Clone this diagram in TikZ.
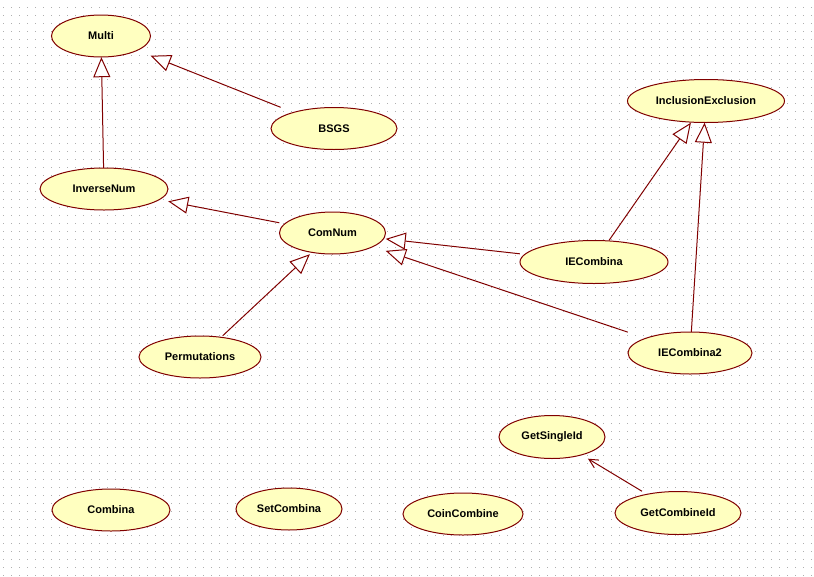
\documentclass[tikz,border=0pt]{standalone}
\usepackage{fontspec}
\setmainfont{Liberation Sans}
\usetikzlibrary{arrows.meta}
\pgfdeclarelayer{grid}
\pgfdeclarelayer{background}
\pgfsetlayers{grid,background,main}
\definecolor{umlred}{RGB}{128,0,0}
\definecolor{umlfill}{RGB}{255,255,192}
\definecolor{griddot}{RGB}{175,175,175}
\tikzset{
  uc/.style={draw=none, inner sep=0pt, font=\fontsize{11}{13}\selectfont\bfseries, text=black},
  ucell/.style={draw=umlred, fill=umlfill, line width=1pt},
  gen/.style={draw=umlred, line width=1pt, -{Triangle[length=20pt,width=17pt,fill=white]}},
  dep/.style={draw=umlred, line width=1pt, -{Straight Barb[length=9pt,width=9pt]}},
  gridrow/.style={draw=griddot, line width=1pt, dash pattern=on 1pt off 7pt},
}
\newcommand{\usecaseshape}[6]{%
  \node[uc, minimum width=2*#4pt, minimum height=2*#5pt] (#1) at (#2,#3) {#6};
  \begin{pgfonlayer}{background}
    \draw[ucell] (#1.center) ellipse [x radius=#4pt, y radius=#5pt];
  \end{pgfonlayer}}
\begin{document}
\begin{tikzpicture}[x=1pt,y=-1pt]
\useasboundingbox (0,0) rectangle (814,576);
\begin{pgfonlayer}{grid}
  \fill[white] (0,0) rectangle (814,576);
  \foreach \y in {7.5,15.5,...,575.5} \draw[gridrow] (3,\y) -- (814,\y);
\end{pgfonlayer}
\usecaseshape{multi}{101}{36}{49.5}{21}{Multi}
\usecaseshape{bsgs}{334}{128.5}{63}{21}{BSGS}
\usecaseshape{inversenum}{104}{189}{64}{21}{InverseNum}
\usecaseshape{comnum}{332.5}{233}{53}{21}{ComNum}
\usecaseshape{inclusionexclusion}{706}{101}{78.5}{21.5}{InclusionExclusion}
\usecaseshape{iecombina}{594}{262}{74}{21.5}{IECombina}
\usecaseshape{permutations}{200}{357}{61}{21}{Permutations}
\usecaseshape{iecombina2}{690}{353}{62}{21}{IECombina2}
\usecaseshape{getsingleid}{552}{437}{53}{21.5}{GetSingleId}
\usecaseshape{getcombineid}{678}{513}{63}{21.5}{GetCombineId}
\usecaseshape{combina}{111}{510}{59}{21}{Combina}
\usecaseshape{setcombina}{289}{509}{53}{21}{SetCombina}
\usecaseshape{coincombine}{463}{514}{60}{21}{CoinCombine}
\draw[gen] (bsgs) -- (multi);
\draw[gen] (inversenum) -- (multi);
\draw[gen] (comnum) -- (inversenum);
\draw[gen] (permutations) -- (comnum);
\draw[gen] (iecombina) -- (comnum);
\draw[gen] (iecombina2) -- (comnum);
\draw[gen] (iecombina) -- (inclusionexclusion);
\draw[gen] (iecombina2) -- (inclusionexclusion);
\draw[dep] (getcombineid) -- (getsingleid);
\end{tikzpicture}
\end{document}
